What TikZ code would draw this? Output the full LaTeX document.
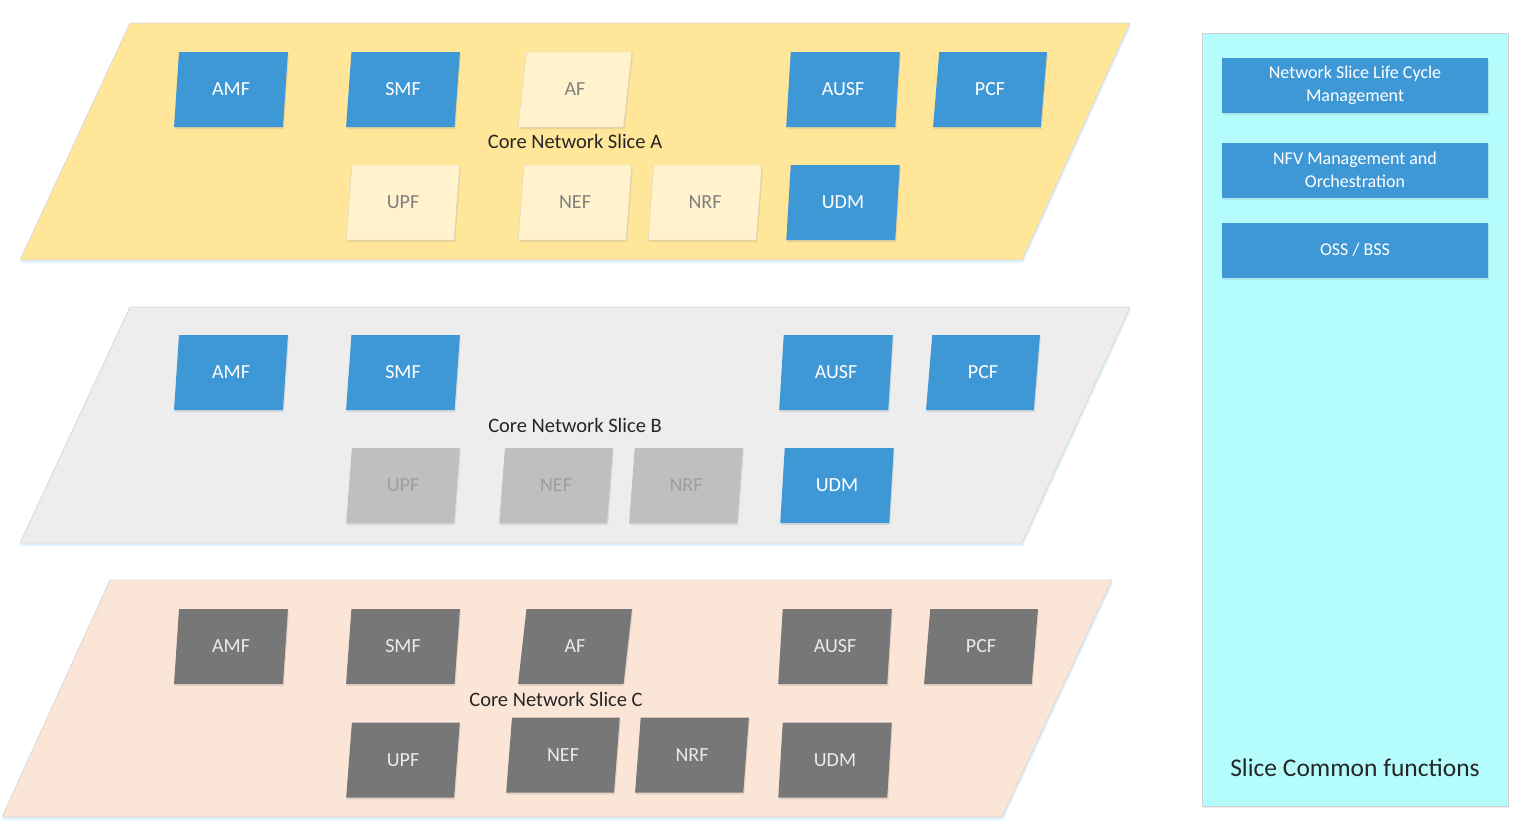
\documentclass[tikz,border=0pt]{standalone}
\usepackage{fontspec}
\setmainfont{Carlito}
\usetikzlibrary{shapes.geometric,shadows}

\definecolor{sliceA}{HTML}{FFE699}
\definecolor{sliceB}{HTML}{EDEDED}
\definecolor{sliceC}{HTML}{FBE5D6}
\definecolor{commonbg}{HTML}{B5FDFD}
\definecolor{nfblue}{HTML}{3F98D6}
\definecolor{nfpale}{HTML}{FFF2CC}
\definecolor{nfgrey}{HTML}{BFBFBF}
\definecolor{nfdark}{HTML}{777777}

\tikzset{
  nf/.style={trapezium, trapezium left angle=82, trapezium right angle=98,
    trapezium stretches=true, minimum width=114pt, minimum height=75pt,
    inner sep=0pt, font=\fontsize{20}{24}\selectfont,
    drop shadow={opacity=0.18, shadow xshift=1pt, shadow yshift=-2pt}},
  nfblue/.style={nf, fill=nfblue, text=white},
  nfpale/.style={nf, fill=nfpale, draw=black!18, text=black!50},
  nfgrey/.style={nf, fill=nfgrey, text=black!38},
  nfdark/.style={nf, fill=nfdark, text=black!8},
  slice/.style={draw=black!15, line width=0.8pt,
    drop shadow={color=blue!40!cyan, opacity=0.12, shadow xshift=1pt, shadow yshift=-3pt}},
  slicelabel/.style={font=\fontsize{20.5}{24}\selectfont, text=black!85},
  mgmt/.style={rectangle, fill=nfblue, text=white, minimum width=266pt,
    minimum height=55pt, align=center, font=\fontsize{18}{23}\selectfont,
    drop shadow={opacity=0.18, shadow xshift=1pt, shadow yshift=-2pt}}
}

\begin{document}
\begin{tikzpicture}[x=1pt, y=-1pt]
\useasboundingbox (0,0) rectangle (1535,823);

% slice planes
\fill[slice, fill=sliceA] (130,23) -- (1130,23) -- (1022,260) -- (20,260) -- cycle;
\fill[slice, fill=sliceB] (130,307) -- (1130,307) -- (1022,543) -- (20,543) -- cycle;
\fill[slice, fill=sliceC] (110,580) -- (1112,580) -- (1002,817) -- (2,817) -- cycle;

% Core Network Slice A
\node[nfblue] (amfA) at (231,89.5) {AMF};
\node[nfblue] (smfA) at (403,89.5) {SMF};
\node[nfpale] (afA) at (575,89.5) {AF};
\node[nfblue] (ausfA) at (843,89.5) {AUSF};
\node[nfblue] (pcfA) at (990,89.5) {PCF};
\node[slicelabel] (labelA) at (575,141) {Core Network Slice A};
\node[nfpale] (upfA) at (403,202.5) {UPF};
\node[nfpale] (nefA) at (575,202.5) {NEF};
\node[nfpale] (nrfA) at (705,202.5) {NRF};
\node[nfblue] (udmA) at (843,202.5) {UDM};

% Core Network Slice B
\node[nfblue] (amfB) at (231,372.5) {AMF};
\node[nfblue] (smfB) at (403,372.5) {SMF};
\node[nfblue] (ausfB) at (836,372.5) {AUSF};
\node[nfblue] (pcfB) at (983,372.5) {PCF};
\node[slicelabel] (labelB) at (575,425) {Core Network Slice B};
\node[nfgrey] (upfB) at (403,485.5) {UPF};
\node[nfgrey] (nefB) at (556,485.5) {NEF};
\node[nfgrey] (nrfB) at (686,485.5) {NRF};
\node[nfblue] (udmB) at (837,485.5) {UDM};

% Core Network Slice C
\node[nfdark] (amfC) at (231,646.5) {AMF};
\node[nfdark] (smfC) at (403,646.5) {SMF};
\node[nfdark] (afC) at (575,646.5) {AF};
\node[nfdark] (ausfC) at (835,646.5) {AUSF};
\node[nfdark] (pcfC) at (981,646.5) {PCF};
\node[slicelabel] (labelC) at (556,699) {Core Network Slice C};
\node[nfdark] (upfC) at (403,760) {UPF};
\node[nfdark] (nefC) at (563,755) {NEF};
\node[nfdark] (nrfC) at (692,755) {NRF};
\node[nfdark] (udmC) at (835,760) {UDM};

% common functions
\node[rectangle, fill=commonbg, draw=black!18, line width=0.8pt,
  minimum width=306pt, minimum height=773pt, inner sep=0pt,
  drop shadow={opacity=0.15, shadow xshift=1pt, shadow yshift=-2pt}] (common) at (1355,419.5) {};
\node[mgmt] (lcm) at (1355,85) {Network Slice Life Cycle\\Management};
\node[mgmt] (nfvo) at (1355,170) {NFV Management and\\Orchestration};
\node[mgmt] (ossbss) at (1355,250) {OSS / BSS};
\node[font=\fontsize{25.5}{30}\selectfont, text=black!85] (commonlabel) at (1355,768) {Slice Common functions};
\end{tikzpicture}
\end{document}
